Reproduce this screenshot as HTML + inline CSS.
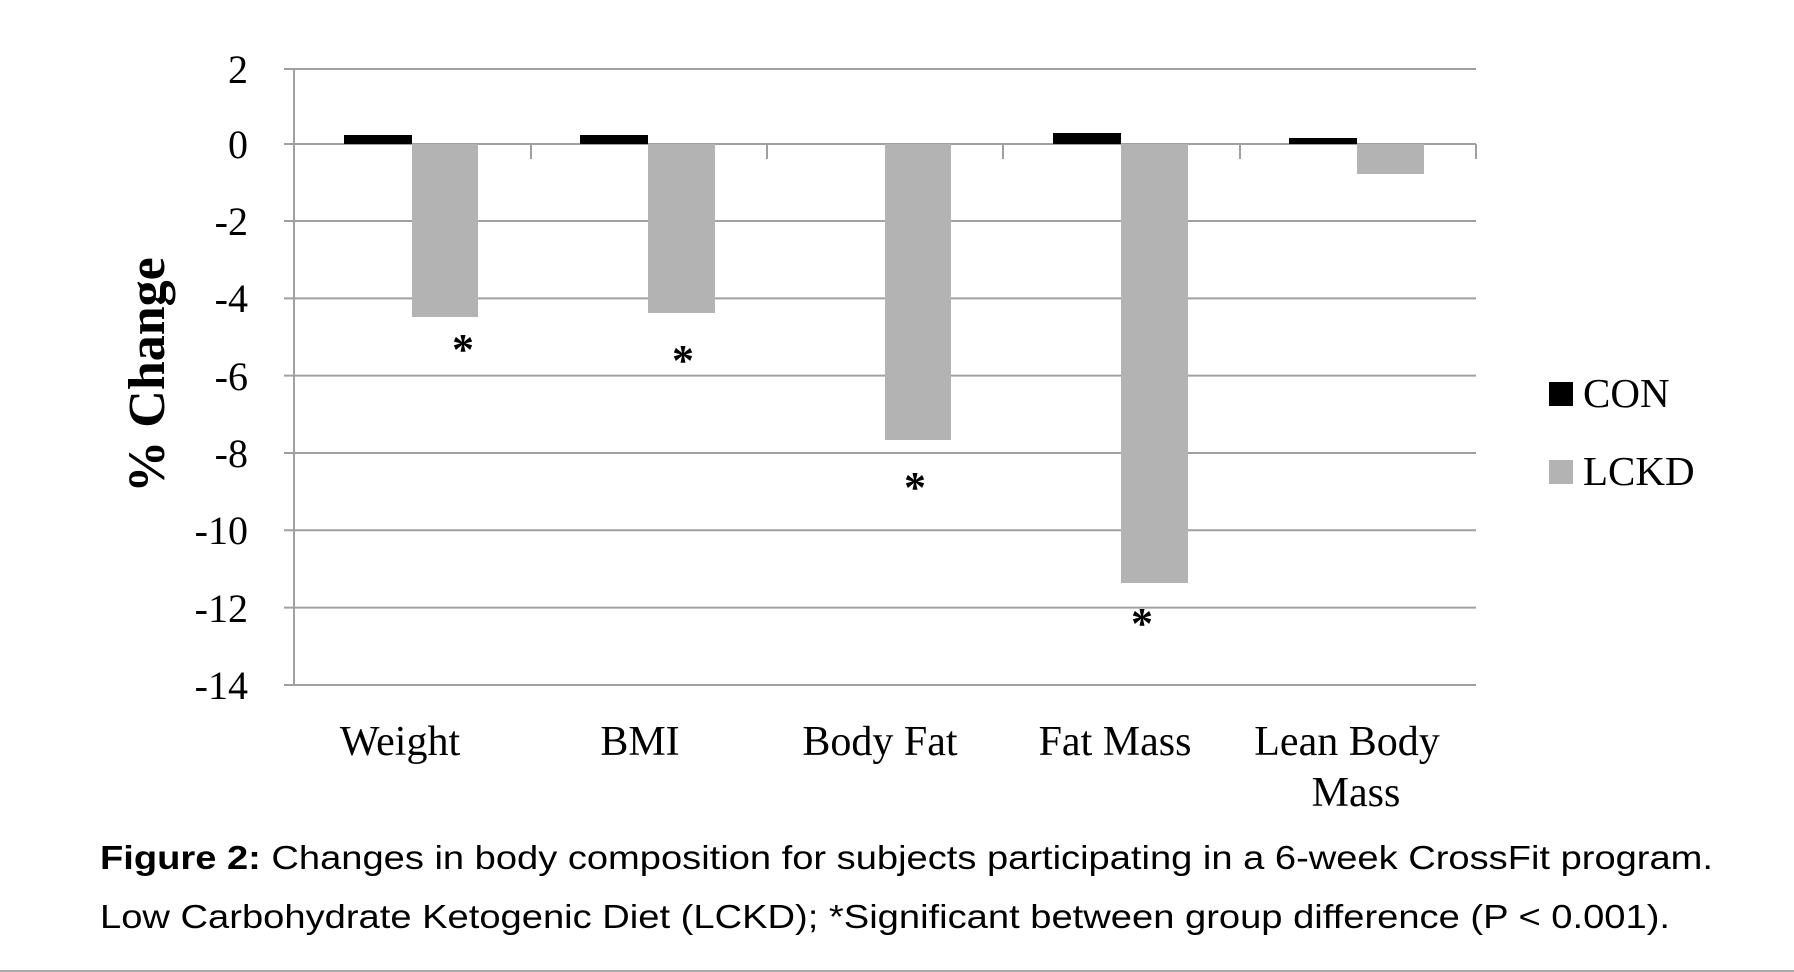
<!DOCTYPE html>
<html><head><meta charset="utf-8"><style>
body{margin:0;background:#fff;}
svg{display:block}
</style></head><body>
<svg width="1794" height="972" xmlns="http://www.w3.org/2000/svg">
<g stroke="#a0a0a0" stroke-width="2">
<line x1="284" y1="69" x2="1476" y2="69"/>
<line x1="284" y1="221" x2="1476" y2="221"/>
<line x1="284" y1="298.4" x2="1476" y2="298.4"/>
<line x1="284" y1="375.6" x2="1476" y2="375.6"/>
<line x1="284" y1="453" x2="1476" y2="453"/>
<line x1="284" y1="530.2" x2="1476" y2="530.2"/>
<line x1="284" y1="607.6" x2="1476" y2="607.6"/>
<line x1="284" y1="685" x2="1476" y2="685"/>
<line x1="294" y1="69" x2="294" y2="685"/>
<line x1="284" y1="144" x2="1476" y2="144"/>
<line x1="531" y1="144" x2="531" y2="159"/>
<line x1="767" y1="144" x2="767" y2="159"/>
<line x1="1003" y1="144" x2="1003" y2="159"/>
<line x1="1240" y1="144" x2="1240" y2="159"/>
<line x1="1476" y1="144" x2="1476" y2="159"/>
</g>
<g fill="#000">
<rect x="344" y="135" width="68" height="9"/>
<rect x="580" y="135" width="68" height="9"/>
<rect x="1053" y="133" width="68" height="11"/>
<rect x="1289" y="138" width="68" height="6"/>
</g>
<g fill="#b3b3b3">
<rect x="412" y="144" width="66" height="173"/>
<rect x="648" y="144" width="67" height="169"/>
<rect x="885" y="144" width="66" height="296"/>
<rect x="1121" y="144" width="67" height="439"/>
<rect x="1357" y="144" width="67" height="30"/>
</g>
<g font-family="Liberation Serif, serif" font-size="40" text-anchor="end" fill="#000">
<text x="248" y="83">2</text>
<text x="248" y="158">0</text>
<text x="248" y="235">-2</text>
<text x="248" y="312">-4</text>
<text x="248" y="390">-6</text>
<text x="248" y="467">-8</text>
<text x="248" y="544">-10</text>
<text x="248" y="622">-12</text>
<text x="248" y="699">-14</text>
</g>
<text transform="translate(164,375) rotate(-90)" font-family="Liberation Serif, serif" font-size="52" font-weight="bold" text-anchor="middle">% Change</text>
<g font-family="Liberation Serif, serif" font-size="44" text-anchor="middle" font-weight="bold">
<text x="463" y="364">*</text>
<text x="683" y="375">*</text>
<text x="915" y="502">*</text>
<text x="1142" y="638">*</text>
</g>
<g font-family="Liberation Serif, serif" font-size="42" text-anchor="middle">
<text x="400" y="755">Weight</text>
<text x="640" y="755">BMI</text>
<text x="880" y="755">Body Fat</text>
<text x="1115" y="755">Fat Mass</text>
<text x="1347" y="755">Lean Body</text>
<text x="1356" y="806">Mass</text>
</g>
<rect x="1549" y="382" width="24" height="24" fill="#000"/>
<rect x="1549" y="460" width="24" height="24" fill="#b3b3b3"/>
<g font-family="Liberation Serif, serif" font-size="41">
<text x="1583" y="407">CON</text>
<text x="1583" y="485">LCKD</text>
</g>
<g font-family="Liberation Sans, sans-serif" font-size="33">
<text x="100" y="869" textLength="1613" lengthAdjust="spacingAndGlyphs"><tspan font-weight="bold">Figure 2:</tspan> Changes in body composition for subjects participating in a 6-week CrossFit program.</text>
<text x="100" y="928" textLength="1570" lengthAdjust="spacingAndGlyphs">Low Carbohydrate Ketogenic Diet (LCKD); *Significant between group difference (P &lt; 0.001).</text>
</g>
<line x1="0" y1="971" x2="1794" y2="971" stroke="#aaa" stroke-width="2"/>
</svg>
</body></html>
